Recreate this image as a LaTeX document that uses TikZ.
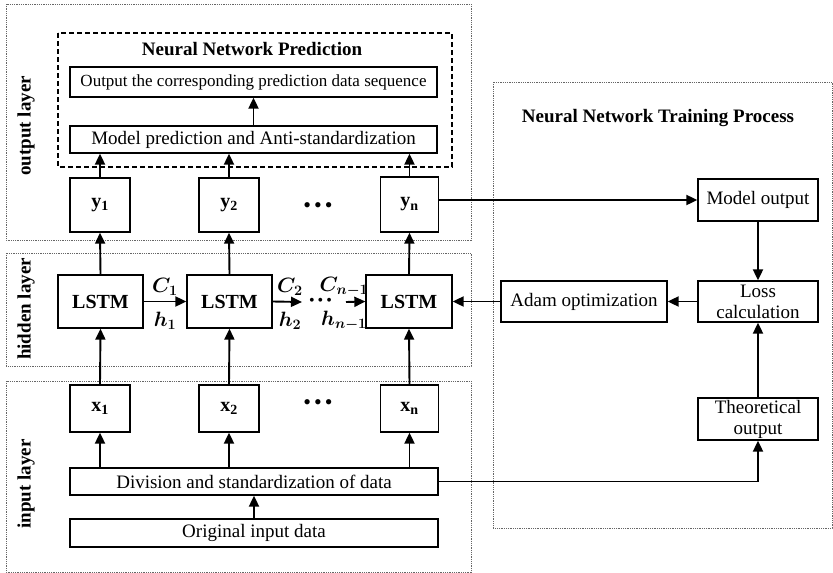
\documentclass[tikz,border=0pt]{standalone}
\usepackage{fontspec}
\usepackage{bm}
\setmainfont{Liberation Serif}
\usetikzlibrary{arrows.meta}
\begin{document}
\begin{tikzpicture}[x=1pt,y=-1pt,
  box/.style={draw, line width=1.3pt, inner sep=0pt, font=\fontsize{19}{21}\selectfont, align=center},
  bbox/.style={box, font=\fontsize{20}{22}\selectfont\bfseries},
  arr/.style={line width=1.9pt, -{Triangle[length=11pt,width=10pt]}},
  panel/.style={draw=black!60, line width=0.8pt, dash pattern=on 1pt off 0.8pt},
  ttl/.style={font=\fontsize{19}{21}\selectfont\bfseries},
  lab/.style={font=\fontsize{20}{22}\selectfont, inner sep=0pt},
  dots/.style={font=\fontsize{22}{24}\selectfont, inner sep=0pt}]
\useasboundingbox (0,0) rectangle (833,573);
% panels
\draw[panel] (6,4) rectangle (471,240);
\draw[panel] (6,253) rectangle (471,366);
\draw[panel] (6,381) rectangle (471,572);
\draw[panel] (493,82) rectangle (832,528);
\draw[line width=1.3pt, dash pattern=on 5pt off 3pt] (58,33) rectangle (452,167);
% side labels
\node[ttl, rotate=90] (lo) at (26,126) {output layer};
\node[ttl, rotate=90] (lh) at (26,309) {hidden layer};
\node[ttl, rotate=90] (li) at (26,484) {input layer};
% titles
\node[ttl] (tp) at (252,49) {Neural Network Prediction};
\node[ttl] (tt) at (658,118) {Neural Network Training Process};
% output layer
\node[box, minimum width=367pt, minimum height=30pt, font=\fontsize{17}{19}\selectfont] (out) at (253.5,82) {Output the corresponding prediction data sequence};
\node[box, minimum width=367pt, minimum height=27pt] (mp) at (253.5,139.5) {Model prediction and Anti-standardization};
\node[bbox, minimum width=60pt, minimum height=54pt] (y1) at (100,205) {y$_\mathbf{1}$};
\node[bbox, minimum width=60pt, minimum height=54pt] (y2) at (229,205) {y$_\mathbf{2}$};
\node[bbox, minimum width=58pt, minimum height=55pt] (yn) at (409.5,204.5) {y$_\mathbf{n}$};
\node[dots] (d1) at (318,208) {•\hspace{3pt}•\hspace{3pt}•};
% hidden layer
\node[bbox, minimum width=85pt, minimum height=53pt] (L1) at (100.5,301.5) {LSTM};
\node[bbox, minimum width=85pt, minimum height=53pt] (L2) at (229.5,301.5) {LSTM};
\node[bbox, minimum width=86pt, minimum height=53pt] (Ln) at (409,301.5) {LSTM};
\node[dots, font=\fontsize{16}{18}\selectfont] (d2) at (320.5,302) {•\hspace{3pt}•\hspace{3pt}•};
\coordinate (da) at (302,302);
\coordinate (db) at (346,302);
\node[lab] (c1) at (165,287) {$\bm{C_1}$};
\node[lab] (h1) at (165,321) {$\bm{h_1}$};
\node[lab] (c2) at (290,287) {$\bm{C_2}$};
\node[lab] (h2) at (290,321) {$\bm{h_2}$};
\node[lab] (cn) at (344,287) {$\bm{C_{n-1}}$};
\node[lab] (hn) at (344,321) {$\bm{h_{n-1}}$};
% input layer
\node[bbox, minimum width=60pt, minimum height=47pt] (x1) at (100,408.5) {x$_\mathbf{1}$};
\node[bbox, minimum width=60pt, minimum height=47pt] (x2) at (229,408.5) {x$_\mathbf{2}$};
\node[bbox, minimum width=58pt, minimum height=47pt] (xn) at (409.5,408.5) {x$_\mathbf{n}$};
\node[dots] (d3) at (318,405) {•\hspace{3pt}•\hspace{3pt}•};
\node[box, minimum width=368pt, minimum height=27pt] (div) at (254,481.5) {Division and standardization of data};
\node[box, minimum width=368pt, minimum height=28pt] (orig) at (254,533) {Original input data};
% training
\node[box, minimum width=120pt, minimum height=42pt] (mo) at (758,200) {Model output};
\node[box, minimum width=120pt, minimum height=41pt] (loss) at (758,301.5) {Loss\\calculation};
\node[box, minimum width=166pt, minimum height=41pt] (adam) at (584,301.5) {Adam optimization};
\node[box, minimum width=120pt, minimum height=42pt] (theo) at (758,419) {Theoretical\\output};
% arrows
\draw[arr] (mp.north) -- (out.south);
\foreach \i in {1,2,n}{
  \draw[arr] (y\i.north) -- (y\i.north |- mp.south);
  \draw[arr] (L\i.north) -- (y\i.south);
  \draw[arr] (x\i.north) -- (L\i.south);
  \draw[arr] (x\i.south |- div.north) -- (x\i.south);
}
\draw[arr] (orig.north) -- (div.south);
\draw[arr] (L1.east) -- (L2.west);
\draw[arr] (L2.east) -- (da);
\draw[arr] (db) -- (Ln.west);
\draw[arr] (yn.east |- mo.west) -- (mo.west);
\draw[arr] (mo.south) -- (loss.north);
\draw[arr] (loss.west) -- (adam.east);
\draw[arr] (adam.west) -- (Ln.east);
\draw[arr] (theo.north) -- (loss.south);
\draw[arr] (div.east) -| (theo.south);
\end{tikzpicture}
\end{document}
